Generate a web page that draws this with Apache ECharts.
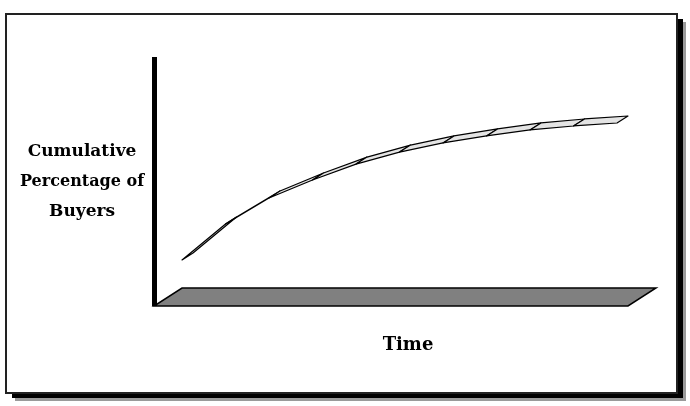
<!DOCTYPE html>
<html>
<head>
<meta charset="utf-8">
<script src="https://cdn.jsdelivr.net/npm/echarts@6/dist/echarts.min.js"></script>
<style>
  html, body { margin: 0; padding: 0; background: #fff; }
  #chart { width: 690px; height: 406px; }
</style>
</head>
<body>
<div id="chart"></div>
<script>
// time steps and cumulative share of buyers
const timeSteps = [0, 1, 2, 3, 4, 5, 6, 7, 8, 9, 10];
const buyersPct = [18.5, 32.9, 43.4, 50.6, 57.0, 61.8, 65.5, 68.3, 70.7, 72.3, 73.5];
const yTitle = ['Cumulative', 'Percentage of', 'Buyers'];
const xTitle = 'Time';

// 3d depth offset of the ribbon / floor, in pixels
const ribbonDepth = [11, -7];
const floorDepth = [28, -18];

const chart = echarts.init(document.getElementById('chart'));

// segments of the ribbon: [x0, y0, x1, y1]
const segments = [];
for (let i = 0; i < timeSteps.length - 1; i++) {
    segments.push([timeSteps[i], buyersPct[i], timeSteps[i + 1], buyersPct[i + 1]]);
}

const font = 'DejaVu Serif';
const xMin = -0.644, xMax = 10.253;

chart.setOption({
    animation: false,
    grid: { left: 154, top: 57, right: 62, bottom: 100 },
    xAxis: {
        type: 'value',
        min: xMin,
        max: xMax,
        show: false
    },
    yAxis: {
        type: 'value',
        min: 0,
        max: 100,
        axisLine: { show: true, onZero: false, lineStyle: { color: '#000', width: 5, cap: 'butt' } },
        axisTick: { show: false },
        axisLabel: { show: false },
        splitLine: { show: false }
    },
    graphic: [
        // frame with drop shadow
        { type: 'rect', z: -30, shape: { x: 15, y: 22, width: 671, height: 379 }, style: { fill: '#9a9a9a' } },
        { type: 'rect', z: -20, shape: { x: 12, y: 19, width: 671, height: 379 }, style: { fill: '#000' } },
        { type: 'rect', z: -10, shape: { x: 6, y: 14, width: 671, height: 379 }, style: { fill: '#fff', stroke: '#222', lineWidth: 2 } },
        { type: 'text', z: 10, x: 82, y: 152, style: { text: yTitle[0], font: 'bold 17px "' + font + '"', fill: '#000', align: 'center', verticalAlign: 'middle' } },
        { type: 'text', z: 10, x: 82, y: 182, style: { text: yTitle[1], font: 'bold 16px "' + font + '"', fill: '#000', align: 'center', verticalAlign: 'middle' } },
        { type: 'text', z: 10, x: 82, y: 212, style: { text: yTitle[2], font: 'bold 17px "' + font + '"', fill: '#000', align: 'center', verticalAlign: 'middle' } },
        { type: 'text', z: 10, x: 408, y: 345, style: { text: xTitle, font: 'bold 18px "' + font + '"', fill: '#000', align: 'center', verticalAlign: 'middle' } }
    ],
    series: [
        {
            // floor
            type: 'custom',
            z: 1,
            data: [[0]],
            renderItem: function (params, api) {
                const a = api.coord([xMin, 0]);
                const b = api.coord([xMax, 0]);
                return {
                    type: 'polygon',
                    shape: {
                        points: [
                            [a[0], a[1]],
                            [b[0], b[1]],
                            [b[0] + floorDepth[0], b[1] + floorDepth[1]],
                            [a[0] + floorDepth[0], a[1] + floorDepth[1]]
                        ]
                    },
                    style: { fill: '#808080', stroke: '#000', lineWidth: 1.5 }
                };
            }
        },
        {
            // ribbon line
            type: 'custom',
            z: 5,
            data: segments,
            renderItem: function (params, api) {
                const p0 = api.coord([api.value(0), api.value(1)]);
                const p1 = api.coord([api.value(2), api.value(3)]);
                return {
                    type: 'polygon',
                    shape: {
                        points: [
                            p0, p1,
                            [p1[0] + ribbonDepth[0], p1[1] + ribbonDepth[1]],
                            [p0[0] + ribbonDepth[0], p0[1] + ribbonDepth[1]]
                        ]
                    },
                    style: { fill: '#e4e4e4', stroke: '#000', lineWidth: 1.2, lineJoin: 'round' }
                };
            }
        }
    ]
});
</script>
</body>
</html>
